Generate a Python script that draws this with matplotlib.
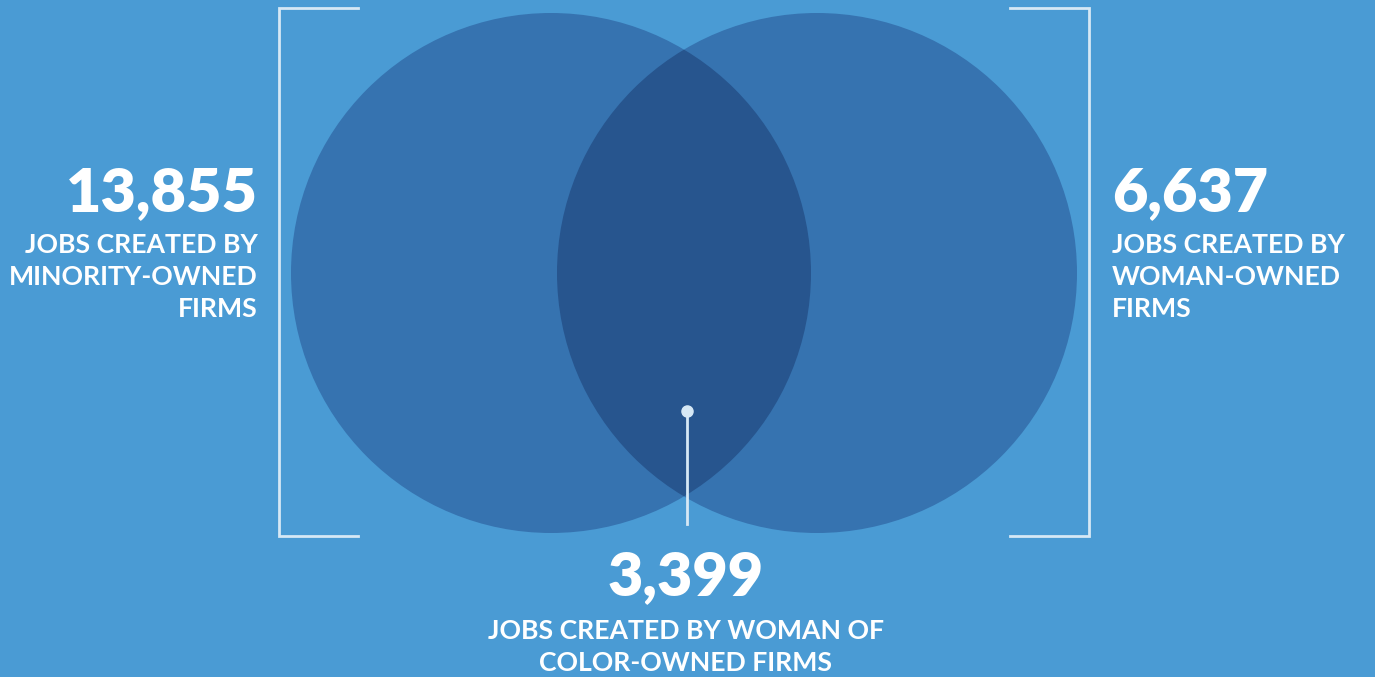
import matplotlib.pyplot as plt
from matplotlib.patches import Circle

# valeurs du diagramme
valeurs = [13855, 6637, 3399]
etiquettes = ["JOBS CREATED BY\nMINORITY-OWNED\nFIRMS",
              "JOBS CREATED BY\nWOMAN-OWNED\nFIRMS",
              "JOBS CREATED BY WOMAN OF\nCOLOR-OWNED FIRMS"]

fond = "#4a9bd4"
cercle = "#3673b0"
inter = "#27558e"
clair = "#d6e8f5"

plt.rcParams['font.family'] = ['Lato', 'DejaVu Sans']

fig = plt.figure(figsize=(13.75, 6.77), dpi=100)
fig.patch.set_facecolor(fond)
ax = fig.add_axes([0, 0, 1, 1])
ax.set_xlim(0, 1375)
ax.set_ylim(677, 0)
ax.axis('off')

r = 260
c1 = (551, 273)
c2 = (817, 273)
ax.add_patch(Circle(c1, r, color=cercle, lw=0, zorder=1))
ax.add_patch(Circle(c2, r, color=cercle, lw=0, zorder=1))
# intersection: cercle 2 decoupe par le cercle 1
p = Circle(c2, r, color=inter, lw=0, zorder=2)
ax.add_patch(p)
clip = Circle(c1, r, transform=ax.transData)
p.set_clip_path(clip)

# crochets
ax.plot([358, 279, 279, 358], [8, 8, 536, 536], color=clair, lw=2, solid_joinstyle='miter')
ax.plot([1010, 1089, 1089, 1010], [8, 8, 536, 536], color=clair, lw=2, solid_joinstyle='miter')

# pointeur
ax.plot([687, 687], [411, 524], color=clair, lw=2, zorder=3)
ax.plot([687], [411], 'o', color=clair, ms=8, zorder=4)

gros = dict(color="white", fontsize=44, fontweight='heavy', va='center')
petit = dict(color="white", fontsize=19.2, fontweight='bold', va='center', linespacing=1.38)

ax.text(258, 193, f"{valeurs[0]:,}", ha='right', **gros)
ax.text(258, 277, etiquettes[0], ha='right', multialignment='right', **petit)

ax.text(1112, 193, f"{valeurs[1]:,}", ha='left', **gros)
ax.text(1112, 277, etiquettes[1], ha='left', multialignment='left', **petit)

ax.text(686, 577, f"{valeurs[2]:,}", ha='center', **gros)
ax.text(686, 647, etiquettes[2], ha='center', multialignment='center', **petit)

fig.savefig("out.png", dpi=100, facecolor=fond)
